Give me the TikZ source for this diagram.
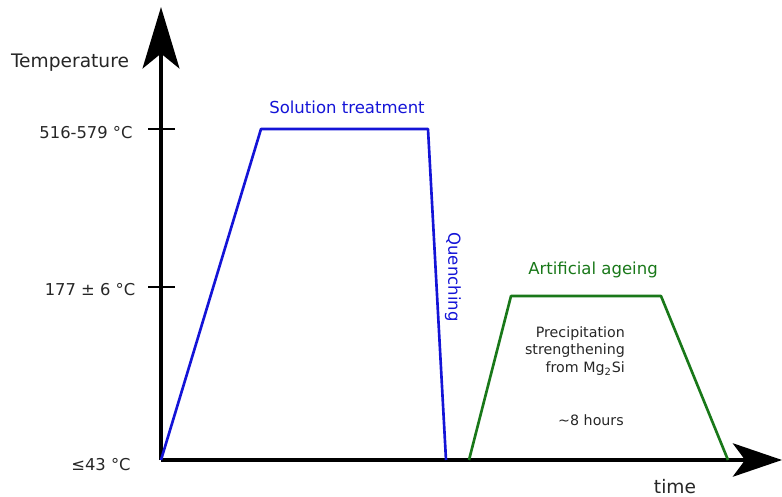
\documentclass[tikz,border=0pt]{standalone}
\usepackage{fontspec}
\setmainfont{DejaVu Sans}
\usetikzlibrary{arrows.meta}
\definecolor{solcol}{RGB}{20, 20, 215}
\definecolor{agecol}{RGB}{25, 120, 25}
\tikzset{
  % axes and ticks
  axis/.style={line width=2pt, black},
  yaxis/.style={axis, -{Stealth[length=35pt, width=21pt, inset=8.5pt]}},
  xaxis/.style={axis, -{Stealth[length=28pt, width=19pt, inset=7pt]}},
  tick/.style={line width=1.1pt, black},
  %
  % axis labels
  axlabel/.style={font=\fontsize{10.6}{12.5}\selectfont, text=black!85},
  templabel/.style={font=\fontsize{9.3}{11}\selectfont, text=black!85},
  %
  % treatment segments
  solution/.style={solcol, line width=1.5pt, line join=round},
  ageing/.style={agecol, line width=1.5pt, line join=round},
  sollabel/.style={font=\fontsize{9.4}{11}\selectfont, text=solcol},
  agelabel/.style={font=\fontsize{9.4}{11}\selectfont, text=agecol},
  note/.style={font=\fontsize{8.1}{10}\selectfont, text=black!85},
}
\begin{document}
\begin{tikzpicture}[x=0.02cm, y=-0.02cm]
  \useasboundingbox (0,0) rectangle (782,497);

  %% ── Axes ──────────────────────────────────────────────────────────────
  \coordinate (O)    at (161, 460);
  \coordinate (ytop) at (161, 7);
  \coordinate (xend) at (782, 460);
  \draw[yaxis] (O) -- (ytop);
  \draw[xaxis] (O) -- (xend);

  \node[axlabel] (ylab) at (70, 63)  {Temperature};
  \node[axlabel] (xlab) at (675, 487) {time};

  %% ── Temperature ticks ────────────────────────────────────────────────
  \coordinate (tA1) at (148, 129); \coordinate (tA2) at (175, 129);
  \coordinate (tB1) at (148, 287); \coordinate (tB2) at (175, 287);
  \draw[tick] (tA1) -- (tA2);
  \draw[tick] (tB1) -- (tB2);
  \node[templabel] (high) at (86, 133)  {516-579 °C};
  \node[templabel] (mid)  at (90, 290)  {177 ± 6 °C};
  \node[templabel] (low)  at (101, 465) {≤43 °C};

  %% ── Solution treatment + quench ──────────────────────────────────────
  \coordinate (s1) at (261, 129);
  \coordinate (s2) at (428, 129);
  \coordinate (s3) at (446, 460);
  \draw[solution] (O) -- (s1) -- (s2) -- (s3);
  \node[sollabel] (soltxt) at (347, 107) {Solution treatment};
  \node[sollabel, rotate=-90] (quench) at (453, 277) {Quenching};

  %% ── Artificial ageing ────────────────────────────────────────────────
  \coordinate (a0) at (469, 460);
  \coordinate (a1) at (511, 296);
  \coordinate (a2) at (661, 296);
  \coordinate (a3) at (728, 460);
  \draw[ageing] (a0) -- (a1) -- (a2) -- (a3);
  \node[agelabel] (agetxt) at (593, 270) {Artificial ageing};
  \node[note, align=right, anchor=east] (precip) at (631, 351)
    {Precipitation\\strengthening\\from Mg\textsubscript{2}Si};
  \node[note] (hours) at (591, 420) {\textasciitilde8 hours};

\end{tikzpicture}
\end{document}
